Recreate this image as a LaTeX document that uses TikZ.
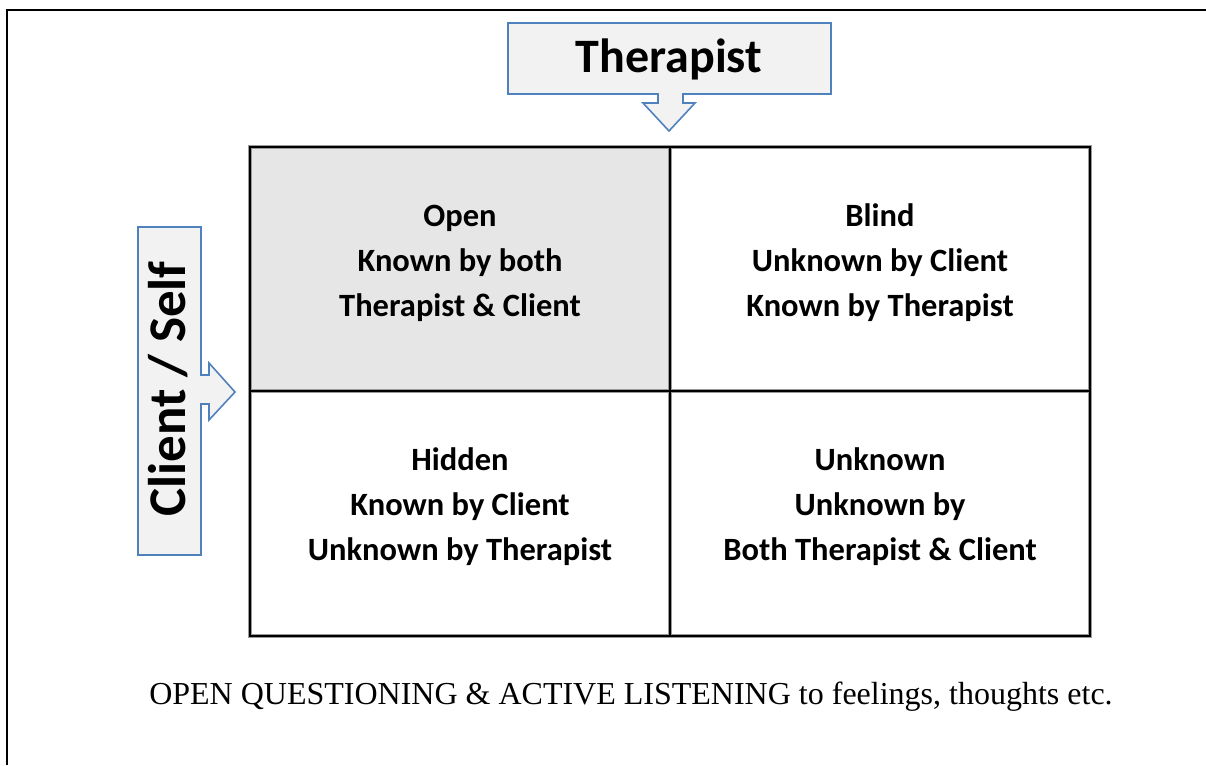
\documentclass[tikz,border=0pt]{standalone}
\usepackage{fontspec}
\setmainfont{Liberation Serif}
\newfontfamily\calib{Carlito}
\definecolor{calloutblue}{RGB}{79,129,189}
\definecolor{calloutfill}{RGB}{242,242,242}
\definecolor{cellgray}{RGB}{230,230,230}
\tikzset{
  callout/.style={draw=calloutblue, fill=calloutfill, line width=1.6pt, line join=miter},
  gridline/.style={draw=black, line width=2.2pt},
  gridshade/.style={draw=black!40, line width=4pt},
  celltext/.style={align=center, font=\calib\bfseries\fontsize{32.5}{45}\selectfont, inner sep=0pt},
  frameline/.style={draw=black, line width=2.6pt}
}
\begin{document}
\begin{tikzpicture}[x=1pt,y=-1pt]
\useasboundingbox (0,0) rectangle (1206,765);
% outer frame (open at right and bottom)
\draw[frameline] (7,765) -- (7,10) -- (1206,10);
% grid
\fill[cellgray] (250,147) rectangle (670,391);
\draw[gridshade] (250,147) rectangle (1090,636);
\draw[gridshade] (670,147) -- (670,636);
\draw[gridshade] (250,391) -- (1090,391);
\draw[gridline] (250,147) rectangle (1090,636);
\draw[gridline] (670,147) -- (670,636);
\draw[gridline] (250,391) -- (1090,391);
% Therapist callout
\draw[callout] (508,23) -- (831,23) -- (831,94) -- (683,94) -- (683,103) -- (695,103)
  -- (669,131) -- (643,103) -- (658,103) -- (658,94) -- (508,94) -- cycle;
\node[font=\calib\bfseries\fontsize{48}{50}\selectfont, inner sep=0pt] (ther) at (669,59) {Therapist};
% Client callout
\draw[callout] (138,227) -- (201,227) -- (201,375) -- (209,375) -- (209,363) -- (235,392)
  -- (209,420) -- (209,404) -- (201,404) -- (201,555) -- (138,555) -- cycle;
\node[font=\calib\bfseries\fontsize{53}{55}\selectfont, inner sep=0pt, rotate=90] (client) at (168,389) {Client / Self};
% cell texts
\node[celltext] (open) at (460,263) {Open\\Known by both\\Therapist \& Client};
\node[celltext] (blind) at (880,263) {Blind\\Unknown by Client\\Known by Therapist};
\node[celltext] (hidden) at (460,507) {Hidden\\Known by Client\\Unknown by Therapist};
\node[celltext] (unknown) at (880,507) {Unknown\\Unknown by\\Both Therapist \& Client};
% caption
\node[font=\fontsize{32}{34}\selectfont, inner sep=0pt, anchor=base] (cap) at (631,704) {OPEN QUESTIONING \& ACTIVE LISTENING to feelings, thoughts etc.};
\end{tikzpicture}
\end{document}
